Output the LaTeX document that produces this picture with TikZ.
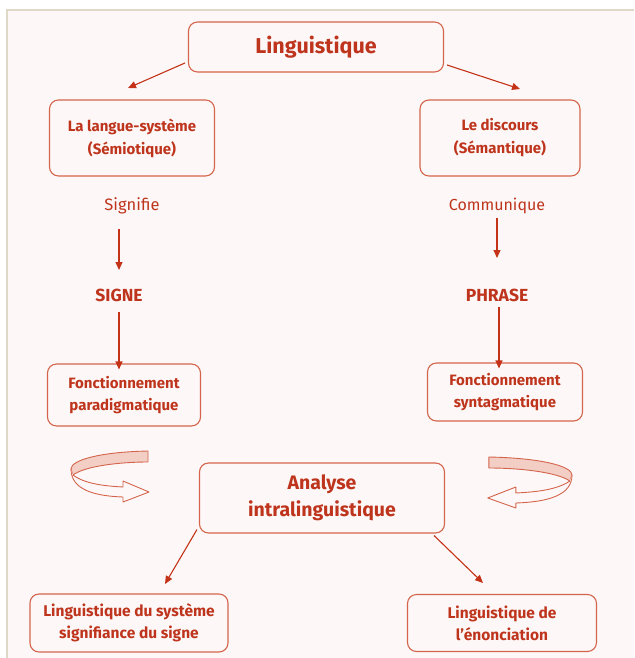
\documentclass[tikz,border=0pt]{standalone}
\usepackage{fontspec}
\setmainfont{Fira Sans}
\usetikzlibrary{arrows.meta}

\definecolor{txtred}{RGB}{190,52,28}
\definecolor{boxred}{RGB}{212,100,76}
\definecolor{arrred}{RGB}{196,50,24}
\definecolor{bgpink}{RGB}{253,248,247}
\definecolor{bandpink}{RGB}{242,206,197}
\definecolor{framegray}{RGB}{222,217,198}

\tikzset{
  box/.style={rectangle, draw=boxred, line width=1.1pt, rounded corners=9pt,
    fill=bgpink, align=center, text=txtred, inner sep=0},
  word/.style={text=txtred, inner sep=0},
  link/.style={draw=arrred, line width=1.1pt, -{Triangle[length=8pt, width=7pt]}},
  spin/.style={draw=boxred, line width=0.9pt, line join=round}
}

\begin{document}
\begin{tikzpicture}[x=1pt, y=-1pt]
  \useasboundingbox (0,0) rectangle (634,658);
  \fill[white] (0,0) rectangle (634,658);
  \fill[bgpink] (7,10) rectangle (634,658);
  \draw[framegray, line width=1.6pt] (7,658) -- (7,10) -- (634,10);

  \node[box, minimum width=255pt, minimum height=50pt,
    font=\bfseries\fontsize{21.5}{24}\selectfont] (top) at (316,47) {Linguistique};

  \node[box, minimum width=165pt, minimum height=76pt,
    font=\bfseries\fontsize{15}{23}\selectfont] (langue) at (132,138) {La langue-système\\(Sémiotique)};
  \node[box, minimum width=160pt, minimum height=76pt,
    font=\bfseries\fontsize{15}{23}\selectfont] (discours) at (500,138) {Le discours\\(Sémantique)};

  \node[word, font=\fontsize{16.5}{18}\selectfont] (signifie) at (132,206) {Signifie};
  \node[word, font=\fontsize{16}{18}\selectfont] (communique) at (497,206) {Communique};

  \node[word, font=\bfseries\fontsize{17.5}{19}\selectfont] (signe) at (119,295) {SIGNE};
  \node[word, font=\bfseries\fontsize{17.5}{19}\selectfont] (phrase) at (497,295) {PHRASE};

  \node[box, minimum width=153pt, minimum height=62pt,
    font=\bfseries\fontsize{15}{22}\selectfont] (para) at (124,395) {Fonctionnement\\paradigmatique};
  \node[box, minimum width=155pt, minimum height=58pt,
    font=\bfseries\fontsize{15}{22}\selectfont] (synt) at (505,392) {Fonctionnement\\syntagmatique};

  \node[box, minimum width=245pt, minimum height=70pt,
    font=\bfseries\fontsize{19.5}{27}\selectfont] (analyse) at (322,498) {Analyse\\intralinguistique};

  \node[box, minimum width=198pt, minimum height=58pt,
    font=\bfseries\fontsize{15.5}{22}\selectfont] (systeme) at (129,623) {Linguistique du système\\signifiance du signe};
  \node[box, minimum width=189pt, minimum height=57pt,
    font=\bfseries\fontsize{15.5}{22}\selectfont] (enonc) at (502,623) {Linguistique de\\l’énonciation};

  \coordinate (tl) at (128,88);
  \coordinate (tr) at (520,89);
  \coordinate (bl) at (165,584);
  \coordinate (br) at (483,583);
  \draw[link] ([xshift=-3pt, yshift=-16pt]top.west) -- (tl);
  \draw[link] ([xshift=3pt, yshift=-18pt]top.east) -- (tr);

  \draw[link] ([yshift=-23pt]signifie.center -| signe.center) -- ([yshift=25pt]signe.center);
  \draw[link] ([yshift=-17pt]signe.center) -- ([yshift=-6pt]para.north -| signe.center);
  \draw[link] ([yshift=-12pt]communique.center) -- ([yshift=37pt]phrase.center);
  \draw[link] ([xshift=2pt, yshift=-12pt]phrase.center) -- ([xshift=2pt, yshift=-6pt]synt.north -| phrase.center);

  \draw[link] ([xshift=-2pt, yshift=4pt]analyse.south west) -- (bl);
  \draw[link] ([xshift=-11pt, yshift=-2pt]analyse.south east) -- (br);

  % turning arrows
  \begin{scope}[shift={(71,470)}]
    \filldraw[spin, fill=bandpink] (77,-19) .. controls (29,-18) and (0,-10) .. (0,-1)
      -- (2,5) .. controls (14,-4) and (49,-8) .. (77,-8) -- cycle;
    \filldraw[spin, fill=bgpink] (2,5) .. controls (14,14) and (34,16) .. (52,17)
      -- (52,11) -- (78,22) -- (52,32) -- (52,27) .. controls (24,26) and (0,20) .. (0,-1);
  \end{scope}
  \begin{scope}[shift={(572,476)}, xscale=-1.08]
    \filldraw[spin, fill=bandpink] (77,-19) .. controls (29,-18) and (0,-10) .. (0,-1)
      -- (2,5) .. controls (14,-4) and (49,-8) .. (77,-8) -- cycle;
    \filldraw[spin, fill=bgpink] (2,5) .. controls (14,14) and (34,16) .. (52,17)
      -- (52,11) -- (78,22) -- (52,32) -- (52,27) .. controls (24,26) and (0,20) .. (0,-1);
  \end{scope}
\end{tikzpicture}
\end{document}
